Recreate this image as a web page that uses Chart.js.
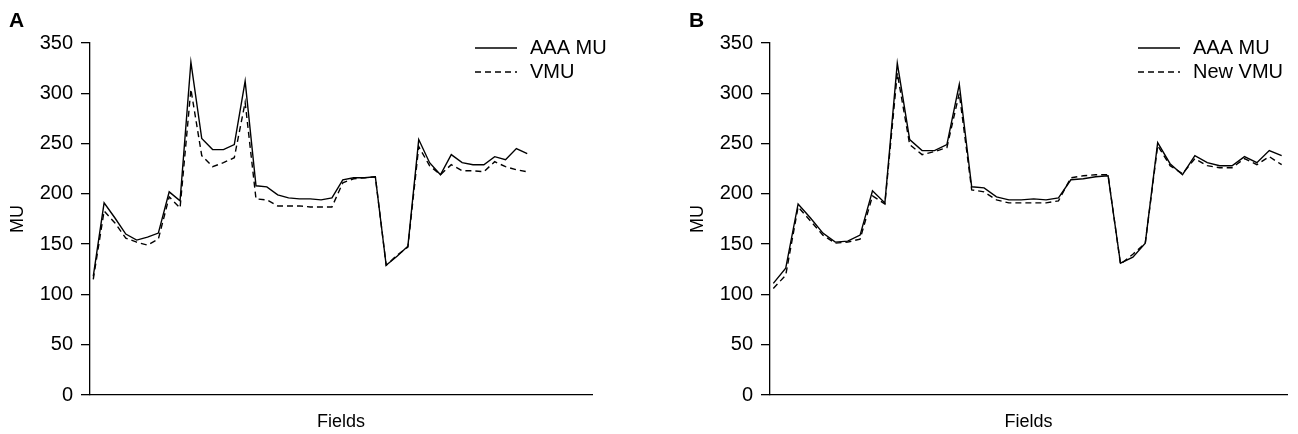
<!DOCTYPE html>
<html>
<head>
<meta charset="utf-8">
<script src="https://cdn.jsdelivr.net/npm/chart.js@4.4.0/dist/chart.umd.min.js"></script>
<style>
body { margin: 0; background: #fff; width: 1298px; height: 434px; overflow: hidden; position: relative; font-family: "Liberation Sans", Arial, sans-serif; }
.panel { position: absolute; top: 0; height: 434px; }
#wrapA { left: 0; width: 649px; }
#wrapB { left: 680px; width: 618px; }
.tag { position: absolute; top: 8px; font-weight: bold; font-size: 21px; color: #000; }
</style>
</head>
<body>
<div class="panel" id="wrapA"><canvas id="chartA"></canvas></div>
<div class="panel" id="wrapB"><canvas id="chartB"></canvas></div>
<div class="tag" style="left:9px">A</div>
<div class="tag" style="left:689px">B</div>
<script>
// values, one per field
const aaaA = [118,191,176,160,154,157,161,202,193,331,255,244,244,249,312,208,207,199,196,195,195,194,196,214,216,216,217,129,138,148,254,231,219,239,231,229,229,237,234,245,240]
const vmuA = [115,183,171,156,152,149,155,197,186,304,238,227,231,236,291,195,194,188,188,188,187,187,187,211,215,216,217,129,139,147,247,228,219,229,223,223,222,232,227,224,222]
const aaaB = [111,126,190,176,161,152,153,159,203,191,330,254,243,243,249,309,207,206,197,194,194,195,194,196,214,215,217,218,131,137,151,251,230,219,238,231,228,228,237,231,243,238]
const newVmuB = [106,119,187,173,159,151,152,155,198,190,320,249,239,242,246,300,204,202,194,191,191,191,191,193,216,218,219,219,130,140,151,248,228,220,235,228,226,226,235,229,237,229]
const yTicks = [0, 50, 100, 150, 200, 250, 300, 350]

Chart.defaults.font.family = '"Liberation Sans", Arial, sans-serif'
Chart.defaults.font.size = 18
Chart.defaults.color = '#000'

// legend drawn inside the plot, top right
const cornerLegend = {
    id: 'cornerLegend',
    afterDatasetsDraw(chart, args, opts) {
        const ctx = chart.ctx
        ctx.save()
        ctx.font = '20px "Liberation Sans", Arial, sans-serif'
        ctx.textBaseline = 'middle'
        ctx.fillStyle = '#000'
        chart.data.datasets.forEach((d, i) => {
            const y = opts.top + i * opts.rowGap
            ctx.beginPath()
            ctx.setLineDash(d.borderDash || [])
            ctx.lineWidth = d.borderWidth
            ctx.strokeStyle = '#000'
            ctx.moveTo(opts.textX - 55, y)
            ctx.lineTo(opts.textX - 13, y)
            ctx.stroke()
            ctx.fillText(d.label, opts.textX, y)
        })
        ctx.restore()
    }
}

toPoints = (vals) => vals.map((v, i) => ({x: i + 1, y: v}))

makeChart = (id, solid, dashed, labels, xMin, xMax, padRight, legendX) => {
    new Chart(document.getElementById(id), {
        type: 'line',
        data: {
            datasets: [
                {label: labels[0], data: toPoints(solid), borderColor: '#000', borderWidth: 1.4, pointRadius: 0, tension: 0},
                {label: labels[1], data: toPoints(dashed), borderColor: '#000', borderWidth: 1.4, borderDash: [6, 4], pointRadius: 0, tension: 0}
            ]
        },
        options: {
            responsive: true,
            maintainAspectRatio: false,
            animation: false,
            layout: {padding: {top: 43, right: padRight, bottom: 0, left: 0}},
            plugins: {
                legend: {display: false},
                tooltip: {enabled: false},
                cornerLegend: {top: 48, rowGap: 24, textX: legendX}
            },
            scales: {
                x: {
                    type: 'linear',
                    min: xMin,
                    max: xMax,
                    grid: {display: false},
                    border: {display: true, color: '#000', width: 1.3},
                    ticks: {display: false},
                    title: {display: true, text: 'Fields', padding: {top: 0, bottom: 1}},
                    afterFit: (s) => { s.height = 39 }
                },
                y: {
                    min: 0,
                    max: 350,
                    afterBuildTicks: (s) => { s.ticks = yTicks.map(v => ({value: v})) },
                    grid: {drawOnChartArea: false, drawTicks: true, tickLength: 9, color: '#000', lineWidth: 1.3},
                    border: {display: true, color: '#000', width: 1.3},
                    ticks: {padding: 8, font: {size: 20}},
                    title: {display: true, text: 'MU', padding: {top: 7, bottom: 0}},
                    afterFit: (s) => { s.width = 90 }
                }
            }
        },
        plugins: [cornerLegend]
    })
}

makeChart('chartA', aaaA, vmuA, ['AAA MU', 'VMU'], 0.7, 46.97, 57, 530)
makeChart('chartB', aaaB, newVmuB, ['AAA MU', 'New VMU'], 0.734, 42.43, 11, 513)
</script>
</body>
</html>
